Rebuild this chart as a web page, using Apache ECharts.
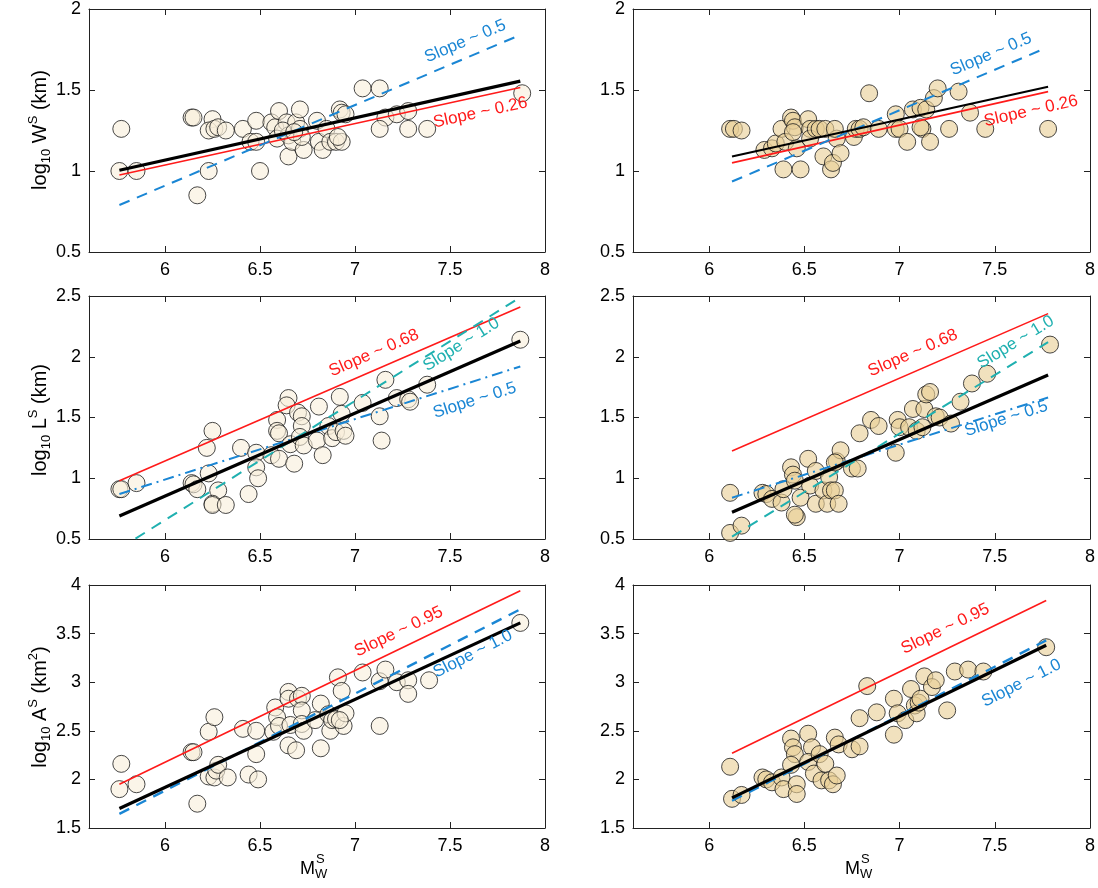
<!DOCTYPE html>
<html>
<head>
<meta charset="utf-8">
<script src="https://cdn.jsdelivr.net/npm/echarts@6/dist/echarts.min.js"></script>
<style>
html,body{margin:0;padding:0;background:#fff;}
#chart{width:1098px;height:888px;}
</style>
</head>
<body>
<div id="chart"></div>
<script>
// ---------- data ----------
const xTicks = [6, 6.5, 7, 7.5, 8];

// panel W (width)
const wLeft = [[5.77,1.26],[5.76,1.00],[5.85,1.00],[6.14,1.33],[6.15,1.33],[6.17,0.85],[6.23,1.00],[6.25,1.32],[6.23,1.25],[6.26,1.26],[6.28,1.27],[6.32,1.25],[6.41,1.26],[6.45,1.18],[6.48,1.31],[6.48,1.18],[6.50,1.00],[6.56,1.30],[6.58,1.27],[6.60,1.37],[6.59,1.20],[6.64,1.30],[6.65,1.22],[6.65,1.09],[6.67,1.18],[6.69,1.30],[6.71,1.38],[6.71,1.26],[6.73,1.13],[6.72,1.21],[6.62,1.25],[6.68,1.24],[6.80,1.31],[6.81,1.18],[6.83,1.13],[6.85,1.26],[6.87,1.18],[6.90,1.18],[6.92,1.38],[6.93,1.36],[6.95,1.35],[6.93,1.18],[6.91,1.21],[7.04,1.51],[7.13,1.51],[7.16,1.33],[7.13,1.26],[7.22,1.35],[7.28,1.37],[7.28,1.26],[7.38,1.26],[7.88,1.48]];
const wRight = [[6.11,1.26],[6.13,1.26],[6.17,1.25],[6.29,1.13],[6.33,1.14],[6.35,1.17],[6.38,1.26],[6.39,1.01],[6.40,1.18],[6.43,1.33],[6.44,1.31],[6.45,1.27],[6.44,1.24],[6.46,1.14],[6.48,1.01],[6.52,1.32],[6.53,1.26],[6.53,1.20],[6.56,1.26],[6.58,1.26],[6.60,1.09],[6.61,1.26],[6.64,1.01],[6.65,1.05],[6.67,1.20],[6.69,1.11],[6.66,1.26],[6.76,1.21],[6.77,1.26],[6.79,1.26],[6.81,1.27],[6.84,1.48],[6.89,1.26],[6.98,1.35],[6.98,1.26],[7.00,1.26],[7.04,1.18],[7.07,1.38],[7.11,1.39],[7.14,1.38],[7.12,1.26],[7.11,1.27],[7.16,1.18],[7.18,1.45],[7.20,1.51],[7.26,1.26],[7.31,1.49],[7.37,1.36],[7.45,1.26],[7.78,1.26]];
const wLeftFit  = [[5.76,1.005],[7.87,1.555]];
const wLeftRed  = [[5.76,0.975],[7.87,1.515]];
const wLeftBlue = [[5.76,0.79],[7.87,1.84]];
const wRightFit  = [[6.12,1.09],[7.78,1.52]];
const wRightRed  = [[6.12,1.05],[7.78,1.49]];
const wRightBlue = [[6.12,0.935],[7.74,1.745]];

// panel L (length)
const lLeft = [[5.76,0.91],[5.77,0.91],[5.85,0.96],[6.14,0.96],[6.15,0.95],[6.17,0.91],[6.23,1.04],[6.22,1.25],[6.25,1.39],[6.28,0.90],[6.25,0.79],[6.25,0.78],[6.32,0.78],[6.40,1.25],[6.44,0.87],[6.48,1.21],[6.48,1.09],[6.49,1.00],[6.56,1.19],[6.60,1.16],[6.59,1.48],[6.59,1.39],[6.60,1.37],[6.65,1.66],[6.64,1.60],[6.66,1.28],[6.68,1.12],[6.70,1.54],[6.72,1.51],[6.72,1.43],[6.71,1.34],[6.73,1.27],[6.80,1.31],[6.81,1.59],[6.83,1.19],[6.86,1.43],[6.88,1.33],[6.90,1.38],[6.92,1.67],[6.93,1.53],[6.94,1.39],[6.95,1.35],[7.04,1.62],[7.13,1.51],[7.14,1.31],[7.16,1.81],[7.22,1.66],[7.28,1.65],[7.29,1.63],[7.38,1.77],[7.87,2.14]];
const lRight = [[6.11,0.88],[6.11,0.55],[6.17,0.61],[6.28,0.88],[6.30,0.87],[6.33,0.83],[6.38,0.80],[6.39,0.91],[6.43,1.09],[6.44,1.03],[6.45,0.98],[6.46,0.68],[6.45,0.70],[6.48,0.84],[6.52,1.16],[6.53,0.94],[6.56,1.06],[6.56,0.79],[6.60,0.90],[6.62,0.79],[6.63,1.01],[6.64,0.90],[6.66,0.90],[6.68,0.79],[6.67,1.14],[6.69,1.23],[6.66,1.13],[6.75,1.08],[6.78,1.08],[6.79,1.37],[6.85,1.48],[6.89,1.43],[6.98,1.21],[6.99,1.48],[7.00,1.42],[7.05,1.42],[7.07,1.57],[7.09,1.39],[7.12,1.42],[7.13,1.57],[7.14,1.69],[7.16,1.71],[7.19,1.51],[7.21,1.50],[7.27,1.45],[7.32,1.63],[7.38,1.78],[7.46,1.86],[7.79,2.10]];
const lLeftFit  = [[5.76,0.69],[7.87,2.13]];
const lLeftRed  = [[5.76,0.98],[7.87,2.41]];
const lLeftCyan = [[5.76,0.42],[7.87,2.49]];
const lLeftBlue = [[5.76,0.87],[7.87,1.92]];
const lRightFit  = [[6.12,0.72],[7.78,1.85]];
const lRightRed  = [[6.12,1.225],[7.78,2.355]];
const lRightCyan = [[6.12,0.52],[7.78,2.12]];
const lRightBlue = [[6.12,0.84],[7.78,1.665]];

// panel A (area)
const aLeft = [[5.77,2.16],[5.76,1.90],[5.85,1.95],[6.17,1.75],[6.14,2.28],[6.15,2.28],[6.23,2.49],[6.26,2.64],[6.23,2.03],[6.26,2.02],[6.27,2.09],[6.28,2.15],[6.33,2.02],[6.41,2.52],[6.44,2.05],[6.48,2.26],[6.48,2.50],[6.49,2.00],[6.57,2.49],[6.58,2.74],[6.59,2.64],[6.60,2.55],[6.65,2.35],[6.65,2.90],[6.65,2.83],[6.69,2.30],[6.66,2.56],[6.70,2.83],[6.72,2.86],[6.72,2.71],[6.72,2.57],[6.73,2.50],[6.79,2.61],[6.82,2.78],[6.82,2.32],[6.86,2.67],[6.87,2.50],[6.88,2.61],[6.90,2.62],[6.91,3.05],[6.93,2.91],[6.94,2.55],[6.95,2.68],[6.92,2.61],[7.04,3.10],[7.13,2.55],[7.13,3.01],[7.16,3.13],[7.22,3.00],[7.28,3.02],[7.28,2.88],[7.39,3.02],[7.87,3.61]];
const aRight = [[6.11,2.13],[6.12,1.80],[6.17,1.84],[6.28,2.02],[6.30,2.00],[6.33,1.97],[6.38,2.02],[6.39,1.90],[6.43,2.42],[6.44,2.33],[6.45,2.26],[6.43,2.15],[6.46,1.95],[6.46,1.85],[6.52,2.47],[6.54,2.33],[6.52,2.18],[6.55,2.06],[6.58,2.26],[6.59,1.99],[6.61,2.16],[6.63,1.99],[6.65,1.95],[6.67,2.04],[6.66,2.43],[6.68,2.36],[6.75,2.31],[6.79,2.34],[6.79,2.63],[6.83,2.96],[6.88,2.69],[6.97,2.83],[6.97,2.46],[6.99,2.68],[7.03,2.61],[7.06,2.93],[7.08,2.76],[7.09,2.68],[7.10,2.79],[7.11,2.83],[7.13,3.06],[7.17,2.95],[7.19,3.02],[7.25,2.71],[7.29,3.11],[7.36,3.13],[7.44,3.11],[7.77,3.36]];
const aLeftFit  = [[5.76,1.70],[7.87,3.61]];
const aLeftRed  = [[5.76,1.95],[7.87,3.94]];
const aLeftBlue = [[5.76,1.645],[7.87,3.75]];
const aRightFit  = [[6.12,1.81],[7.77,3.38]];
const aRightRed  = [[6.12,2.27],[7.77,3.84]];
const aRightBlue = [[6.12,1.78],[7.77,3.43]];

// y ranges per row
const yRanges = [[0.5,2],[0.5,2.5],[1.5,4]];

// slope annotations: [panel, text, color key, anchor, line used for angle]
const slopeLabels = [
  [0,'Slope ~ 0.5','blue',[7.58,1.80],wLeftBlue],
  [0,'Slope ~ 0.26','red',[7.66,1.36],wLeftRed],
  [1,'Slope ~ 0.5','blue',[7.48,1.72],wRightBlue],
  [1,'Slope ~ 0.26','red',[7.69,1.37],wRightRed],
  [2,'Slope ~ 0.68','red',[7.10,2.03],lLeftRed],
  [2,'Slope ~ 1.0','cyan',[7.56,2.10],lLeftCyan],
  [2,'Slope ~ 0.5','blue',[7.63,1.64],lLeftBlue],
  [3,'Slope ~ 0.68','red',[7.07,2.03],lRightRed],
  [3,'Slope ~ 1.0','cyan',[7.61,2.12],lRightCyan],
  [3,'Slope ~ 0.5','blue',[7.56,1.49],lRightBlue],
  [4,'Slope ~ 0.95','red',[7.23,3.52],aLeftRed],
  [4,'Slope ~ 1.0','blue',[7.62,3.29],aLeftBlue],
  [5,'Slope ~ 0.95','red',[7.24,3.55],aRightRed],
  [5,'Slope ~ 1.0','blue',[7.64,2.99],aRightBlue]
];

// ---------- styling ----------
const C = {red:'#ff1a1a', blue:'#1a86d4', cyan:'#1fb0b0', black:'#000'};
const FONT = 'Liberation Sans, Arial, sans-serif';
const gridPos = [
  {left:89, top:9}, {left:633, top:9},
  {left:89, top:296}, {left:633, top:296},
  {left:89, top:585}, {left:633, top:585}
];
const grids = gridPos.map(g => ({left:g.left, top:g.top, width:(g.left<300?456:457), height:243, show:false}));

const xAxis = [], yAxis = [];
for (let i = 0; i < 6; i++) {
  const yr = yRanges[Math.floor(i/2)];
  const axLine = {show:true, onZero:false, lineStyle:{color:'#222', width:1}};
  xAxis.push({gridIndex:i, type:'value', min:5.6, max:8, position:'bottom',
    axisLine:axLine,
    axisTick:{show:true, inside:true, length:6, customValues:xTicks, lineStyle:{color:'#222'}},
    axisLabel:{show:true, customValues:xTicks, fontSize:18, color:'#000', fontFamily:FONT, margin:9},
    splitLine:{show:false}});
  xAxis.push({gridIndex:i, type:'value', min:5.6, max:8, position:'top',
    axisLine:axLine,
    axisTick:{show:true, inside:true, length:6, customValues:xTicks, lineStyle:{color:'#222'}},
    axisLabel:{show:false}, splitLine:{show:false}});
  yAxis.push({gridIndex:i, type:'value', min:yr[0], max:yr[1], interval:0.5, position:'left',
    axisLine:axLine,
    axisTick:{show:true, inside:true, length:6, lineStyle:{color:'#222'}},
    axisLabel:{show:true, fontSize:18, color:'#000', fontFamily:FONT, margin:8},
    splitLine:{show:false}});
  yAxis.push({gridIndex:i, type:'value', min:yr[0], max:yr[1], interval:0.5, position:'right',
    axisLine:axLine,
    axisTick:{show:true, inside:true, length:6, lineStyle:{color:'#222'}},
    axisLabel:{show:false}, splitLine:{show:false}});
}

const series = [];
function scatter(i, data, left) {
  series.push({type:'scatter', xAxisIndex:2*i, yAxisIndex:2*i, data, symbol:'circle', symbolSize:17,
    itemStyle:{color: left ? 'rgba(248,239,218,0.75)' : 'rgba(233,207,150,0.78)', borderColor:'#1a1a1a', borderWidth:1},
    z:2, silent:true});
}
function line(i, data, color, width, type) {
  series.push({type:'line', xAxisIndex:2*i, yAxisIndex:2*i, data, symbol:'none', clip:true,
    lineStyle:{color, width, type:type||'solid', cap:'butt'}, z:5, silent:true, animation:false});
}
scatter(0, wLeft, true);
line(0, wLeftRed, C.red, 1.6); line(0, wLeftBlue, C.blue, 2, [11,8]); line(0, wLeftFit, C.black, 3.2);
scatter(1, wRight, false);
line(1, wRightRed, C.red, 1.6); line(1, wRightBlue, C.blue, 2, [11,8]); line(1, wRightFit, C.black, 2);
scatter(2, lLeft, true);
line(2, lLeftRed, C.red, 1.6); line(2, lLeftCyan, C.cyan, 2, [11,8]); line(2, lLeftBlue, C.blue, 2, [11,5,2,5]); line(2, lLeftFit, C.black, 3.2);
scatter(3, lRight, false);
line(3, lRightRed, C.red, 1.6); line(3, lRightCyan, C.cyan, 2, [11,8]); line(3, lRightBlue, C.blue, 2, [11,5,2,5]); line(3, lRightFit, C.black, 3.2);
scatter(4, aLeft, true);
line(4, aLeftRed, C.red, 1.6); line(4, aLeftBlue, C.blue, 2.4, [11,8]); line(4, aLeftFit, C.black, 3.2);
scatter(5, aRight, false);
line(5, aRightRed, C.red, 1.6); line(5, aRightBlue, C.blue, 2.4, [11,8]); line(5, aRightFit, C.black, 3.2);

const chart = echarts.init(document.getElementById('chart'), null, {renderer:'canvas'});
chart.setOption({animation:false, backgroundColor:'#fff', grid:grids, xAxis, yAxis, series});

// ---------- annotations ----------
const graphics = [];
slopeLabels.forEach(([p, text, ck, anchor, ln]) => {
  const a = chart.convertToPixel({gridIndex:p}, anchor);
  const p0 = chart.convertToPixel({gridIndex:p}, ln[0]);
  const p1 = chart.convertToPixel({gridIndex:p}, ln[1]);
  const ang = Math.atan2(p0[1]-p1[1], p1[0]-p0[0]);
  graphics.push({type:'text', x:a[0], y:a[1], rotation:ang, z:10, silent:true,
    style:{text, fill:C[ck], font:'17px ' + FONT, align:'center', verticalAlign:'middle'}});
});

const richY = {
  n:{fontSize:20, fontFamily:FONT, fill:'#000', color:'#000', lineHeight:26, verticalAlign:'middle'},
  s:{fontSize:13, fontFamily:FONT, fill:'#000', color:'#000', lineHeight:26, verticalAlign:'bottom'},
  p:{fontSize:13, fontFamily:FONT, fill:'#000', color:'#000', lineHeight:26, verticalAlign:'top'}
};
const yTitles = [
  ['{n|log}{s|10}{n| W}{p|S}{n| (km)}', 130],
  ['{n|log}{s|10}{n| L}{p|S}{n| (km)}', 420],
  ['{n|log}{s|10}{n| A}{p|S}{n| (km}{p|2}{n|)}', 707]
];
yTitles.forEach(([t, cy]) => {
  graphics.push({type:'text', x:40, y:cy, rotation:Math.PI/2, silent:true,
    style:{text:t, rich:richY, align:'center', verticalAlign:'middle', fill:'#000', font:'20px ' + FONT}});
});
[317, 862].forEach(cx => {
  graphics.push({type:'text', x:cx-2, y:869, silent:true,
    style:{text:'M', fill:'#000', font:'18px ' + FONT, align:'right', verticalAlign:'middle'}});
  graphics.push({type:'text', x:cx-1, y:859, silent:true,
    style:{text:'S', fill:'#000', font:'13px ' + FONT, align:'left', verticalAlign:'middle'}});
  graphics.push({type:'text', x:cx-2, y:874, silent:true,
    style:{text:'W', fill:'#000', font:'13px ' + FONT, align:'left', verticalAlign:'middle'}});
});
chart.setOption({graphic: graphics});
</script>
</body>
</html>
